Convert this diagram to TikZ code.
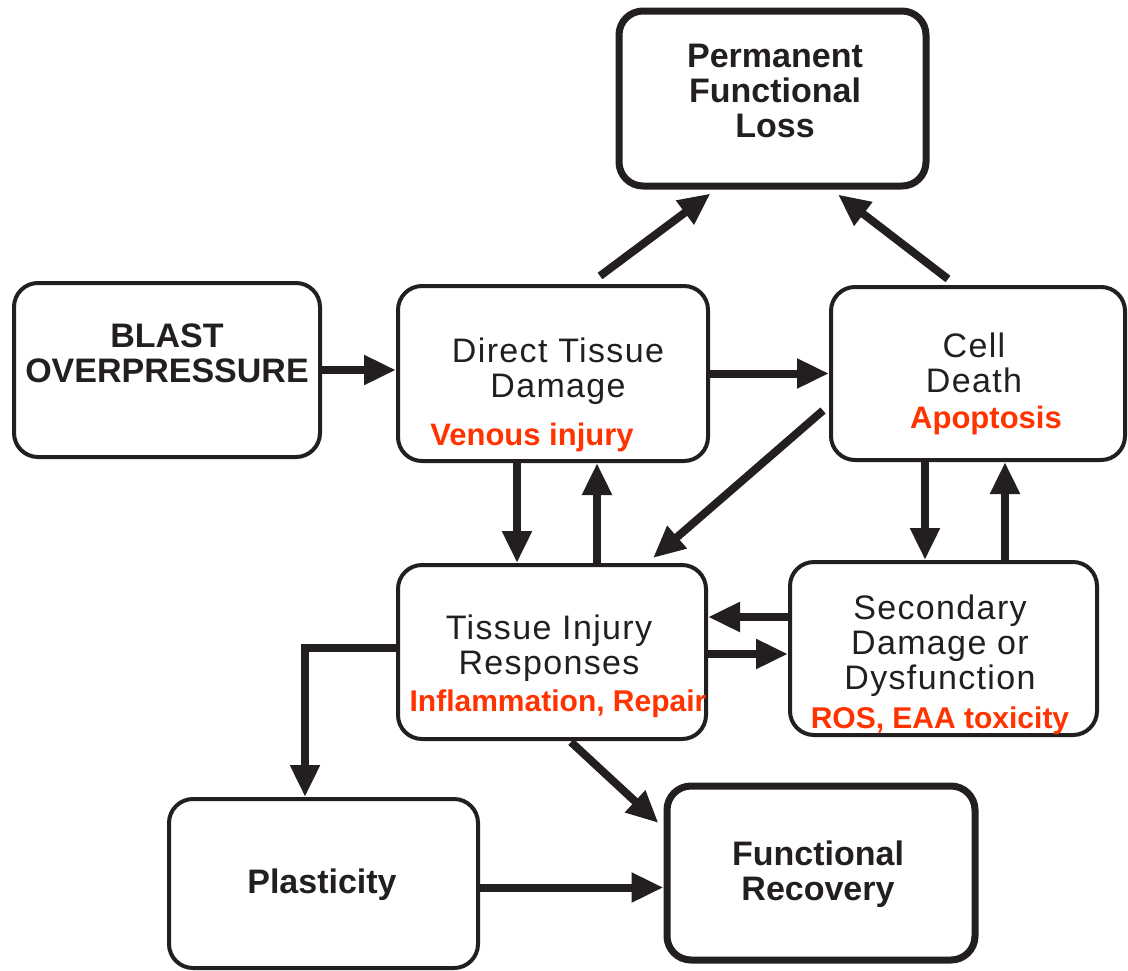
\documentclass[tikz,border=0pt]{standalone}
\usepackage{fontspec}
\setmainfont{Liberation Sans}
\newfontfamily\thinfont[LetterSpace=4]{Liberation Sans}
\usetikzlibrary{arrows.meta,calc}
\definecolor{ink}{RGB}{35,31,32}
\definecolor{alarm}{RGB}{255,51,0}
\tikzset{
	box/.style={draw=ink,line width=4pt,rounded corners=24pt,inner sep=0pt},
	heavy/.style={box,line width=7pt},
	link/.style={draw=ink,line width=8pt,-{Triangle[length=32pt,width=28pt]}},
	title/.style={font=\fontsize{34}{35}\selectfont\bfseries,text=ink,align=center},
	plain/.style={font=\thinfont\fontsize{34}{35}\selectfont,text=ink,align=center},
	note/.style={font=\fontsize{31}{33}\selectfont\bfseries,text=alarm},
	smallnote/.style={note,font=\fontsize{30}{32}\selectfont\bfseries},
}
\begin{document}
\begin{tikzpicture}[x=1pt,y=-1pt]
	\useasboundingbox (0,0) rectangle (1128,970);
	\node[heavy,minimum width=307pt,minimum height=175pt] (loss) at (772.5,98.5) {};
	\node[box,minimum width=306pt,minimum height=174pt] (blast) at (167,370) {};
	\node[box,minimum width=310pt,minimum height=175pt] (direct) at (553,373.5) {};
	\node[box,minimum width=294pt,minimum height=173pt] (cell) at (978,373.5) {};
	\node[box,minimum width=308pt,minimum height=174pt] (tissue) at (552,652) {};
	\node[box,minimum width=307pt,minimum height=173pt] (second) at (943.5,648.5) {};
	\node[box,minimum width=309pt,minimum height=169pt] (plast) at (323.5,883.5) {};
	\node[heavy,minimum width=308pt,minimum height=174pt] (recov) at (821,873) {};
	\node[title] (losstxt) at (775,91) {Permanent\\Functional\\Loss};
	\node[title] (blasttxt) at (167,353) {BLAST\\OVERPRESSURE};
	\node[plain] (directtxt) at (558,371) {Direct Tissue\\Damage};
	\node[note] (venous) at (532,437) {Venous injury};
	\node[plain] (celltxt) at (974,363) {Cell\\Death};
	\node[note] (apopt) at (986,420) {Apoptosis};
	\node[plain] (tissuetxt) at (549,648) {Tissue Injury\\Responses};
	\node[smallnote] (inflam) at (558,704) {Inflammation, Repair};
	\node[plain] (secondtxt) at (940,646) {Secondary\\Damage or\\Dysfunction};
	\node[smallnote] (ros) at (940,721) {ROS, EAA toxicity};
	\node[title] (plasttxt) at (322,885) {Plasticity};
	\node[title] (recovtxt) at (818,874) {Functional\\Recovery};
	\coordinate (backin) at ($(second.west)+(0,-31.5)$);
	\coordinate (fwdout) at ($(tissue.east)+(0,2)$);
	\coordinate (plastout) at ($(plast.east)+(0,4)$);
	\draw[link] (blast.east) -- (blast.east -| direct.west);
	\draw[link] (direct.east) -- (direct.east -| cell.west);
	\draw[link] ($(direct.north)+(47,-8)$) -- ($(loss.south)+(-62,4)$);
	\draw[link] ($(cell.north)+(-30,-6)$) -- ($(loss.south)+(65.5,5)$);
	\draw[link] ([xshift=-36pt]direct.south) -- ([xshift=-36pt]direct.south |- tissue.north);
	\draw[link] ([xshift=45pt]tissue.north) -- ([xshift=45pt]tissue.north |- direct.south);
	\draw[link] ($(cell.west)+(-6,37)$) -- ($(tissue.north)+(101,-5)$);
	\draw[link] ([xshift=-53pt]cell.south) -- ([xshift=-53pt]cell.south |- second.north);
	\draw[link] ([xshift=61.5pt]second.north) -- ([xshift=61.5pt]second.north |- cell.south);
	\draw[link] (backin) -- (backin -| tissue.east);
	\draw[link] (fwdout) -- (fwdout -| second.west);
	\draw[link] ($(tissue.west)+(0,-4)$) -| ($(plast.north)+(-18.5,0)$);
	\draw[link] ($(tissue.south)+(19,1)$) -- ($(recov.west)+(-5,-50)$);
	\draw[link] (plastout) -- (plastout -| recov.west);
\end{tikzpicture}
\end{document}
